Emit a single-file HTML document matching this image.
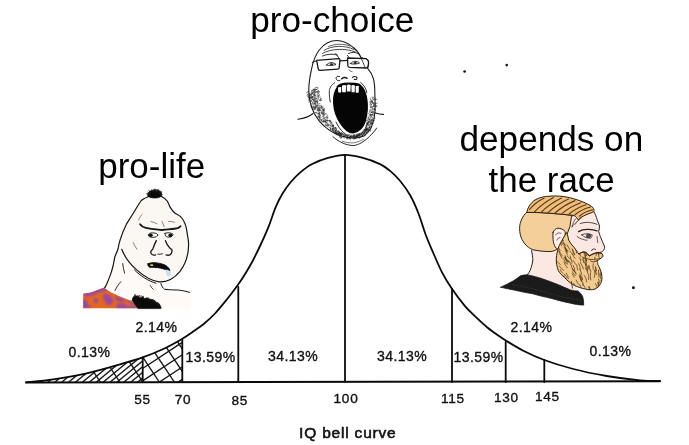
<!DOCTYPE html>
<html><head><meta charset="utf-8"><title>IQ bell curve</title>
<style>
html,body{margin:0;padding:0;background:#fff;}
body{width:689px;height:445px;overflow:hidden;position:relative;font-family:"Liberation Sans",sans-serif;}
svg{position:absolute;left:0;top:0;opacity:0.999;}
.h{position:absolute;white-space:nowrap;color:#000;font-size:34px;line-height:40px;text-align:center;}
.n{font-family:"Liberation Sans",sans-serif;font-size:13.6px;fill:#111;stroke:#111;stroke-width:0.35px;text-anchor:middle;letter-spacing:0.7px;}
.p{font-family:"Liberation Sans",sans-serif;font-size:14px;fill:#111;stroke:#111;stroke-width:0.35px;text-anchor:middle;letter-spacing:0.45px;}
</style></head><body>
<svg width="689" height="445" viewBox="0 0 689 445">
<rect width="689" height="445" fill="#fff"/>
<!-- hatch in left tail -->
<defs><clipPath id="tailA"><path d="M26.0 382.3 C30.6 381.8 43.2 380.8 53.3 379.3 C63.4 377.8 75.6 375.8 86.7 373.3 C97.8 370.8 110.7 367.0 120.0 364.3 C129.3 361.6 135.5 359.9 142.7 357.3 C149.9 354.8 156.8 352.0 163.3 349.0 C169.8 346.0 178.5 340.9 181.5 339.3 L182.3 339 L182.3 382.4 L26 382.4 Z"/><rect x="0" y="0" width="0" height="0"/></clipPath>
<clipPath id="cA"><rect x="20" y="330" width="122.7" height="60"/></clipPath>
<clipPath id="cB"><rect x="142.7" y="330" width="39.6" height="60"/></clipPath></defs>
<g clip-path="url(#tailA)" fill="none" stroke="#151515" stroke-width="1.35" stroke-linecap="butt">
<g clip-path="url(#cA)">
<path d="M40.0 383 l40 -33"/>
<path d="M46.9 383 l40 -33"/>
<path d="M53.8 383 l40 -33"/>
<path d="M60.7 383 l40 -33"/>
<path d="M67.6 383 l40 -33"/>
<path d="M74.5 383 l40 -33"/>
<path d="M81.4 383 l40 -33"/>
<path d="M88.3 383 l40 -33"/>
<path d="M95.2 383 l40 -33"/>
<path d="M102.1 383 l40 -33"/>
<path d="M109.0 383 l40 -33"/>
<path d="M115.9 383 l40 -33"/>
<path d="M122.8 383 l40 -33"/>
<path d="M129.7 383 l40 -33"/>
<path d="M136.6 383 l40 -33"/>
<path d="M143.5 383 l40 -33"/>
<path d="M101.0 383 l-20 -30"/>
<path d="M120.5 383 l-20 -30"/>
<path d="M143.5 383 l-20 -30"/>
</g>
<g clip-path="url(#cB)">
<path d="M160.0 383 l-30 -45"/>
<path d="M175.0 383 l-30 -45"/>
<path d="M190.0 383 l-30 -45"/>
<path d="M205.0 383 l-30 -45"/>
<path d="M143 356.0 l45 -29.7"/>
<path d="M143 368.3 l45 -29.7"/>
<path d="M143 380.6 l45 -29.7"/>
<path d="M143 392.9 l45 -29.7"/>
<path d="M143 405.2 l45 -29.7"/>
</g>
</g>
<!-- bell curve -->
<g fill="none" stroke="#0a0a0a" stroke-width="1.8" stroke-linecap="round" stroke-linejoin="round">
<path d="M26.0 382.3 C30.6 381.8 43.2 380.8 53.3 379.3 C63.4 377.8 75.6 375.8 86.7 373.3 C97.8 370.8 110.7 367.0 120.0 364.3 C129.3 361.6 135.5 359.9 142.7 357.3 C149.9 354.8 156.8 352.0 163.3 349.0 C169.8 346.0 176.6 342.1 181.5 339.3 C186.4 336.5 188.8 334.6 192.5 332.0 C196.2 329.4 199.9 327.1 203.7 324.0 C207.4 320.9 211.2 317.6 215.0 313.5 C218.8 309.4 223.0 304.2 226.8 299.5 C230.6 294.8 234.8 289.1 237.6 285.2 C240.4 281.3 241.3 280.2 243.7 276.3 C246.1 272.4 249.3 267.2 252.1 262.0 C254.9 256.8 257.7 251.0 260.5 245.0 C263.3 239.0 266.4 232.1 268.9 225.8 C271.4 219.5 273.4 212.5 275.7 207.2 C277.9 201.9 279.9 198.0 282.4 193.8 C284.9 189.6 287.7 185.7 290.8 182.0 C293.9 178.3 297.4 174.9 300.9 171.9 C304.4 168.9 307.2 166.5 311.7 164.2 C316.2 161.9 322.4 159.4 328.0 157.9 C333.6 156.4 339.5 154.9 345.2 154.9 C350.9 154.9 356.2 156.2 362.0 157.7 C367.8 159.2 375.3 161.9 380.0 164.1 C384.7 166.3 386.7 168.1 390.1 170.9 C393.5 173.7 396.8 176.9 400.2 181.0 C403.6 185.1 407.2 190.0 410.3 195.5 C413.4 201.0 416.2 207.6 418.7 214.0 C421.2 220.4 423.0 227.5 425.5 234.2 C428.0 240.9 431.1 248.0 433.9 254.4 C436.7 260.9 439.4 267.3 442.3 272.9 C445.2 278.5 447.6 282.4 451.4 288.0 C455.2 293.6 460.9 301.3 465.0 306.2 C469.1 311.1 472.5 313.8 476.2 317.4 C479.9 320.9 483.6 324.4 487.4 327.5 C491.1 330.6 495.5 333.6 498.7 335.8 C501.9 338.1 502.4 338.5 506.5 341.0 C510.6 343.5 517.0 347.5 523.3 350.7 C529.6 353.9 536.0 356.9 544.3 360.0 C552.6 363.1 562.9 366.3 573.3 369.0 C583.7 371.7 595.6 374.1 606.7 376.0 C617.8 377.9 631.1 379.5 640.0 380.3 C648.9 381.1 656.7 380.9 660.0 381.0"/>
<path d="M26 382.4 L660 381.3" stroke-width="2"/>
<path d="M345 155 V382"/>
<path d="M238.3 287 V382"/>
<path d="M452 289 V382"/>
<path d="M182.3 339.5 V382"/>
<path d="M505.7 342 V382"/>
<path d="M142.7 357.5 V382"/>
<path d="M544.3 360 V382"/>
</g>
<!-- axis numbers -->
<text class="n" x="142.5" y="404">55</text>
<text class="n" x="183" y="404">70</text>
<text class="n" x="239.7" y="404.7">85</text>
<text class="n" x="346" y="402.9">100</text>
<text class="n" x="453" y="403">115</text>
<text class="n" x="506.3" y="402">130</text>
<text class="n" x="547.3" y="401">145</text>
<!-- percentages -->
<text class="p" x="89.5" y="356.5">0.13%</text>
<text class="p" x="156.5" y="331.5">2.14%</text>
<text class="p" x="210.5" y="361.5">13.59%</text>
<text class="p" x="293" y="361">34.13%</text>
<text class="p" x="402" y="361">34.13%</text>
<text class="p" x="478.5" y="361.5">13.59%</text>
<text class="p" x="531.5" y="331.5">2.14%</text>
<text class="p" x="610.5" y="355.5">0.13%</text>
<text x="347.8" y="437.9" style="font-family:'Liberation Sans',sans-serif;font-size:15.5px;fill:#111;stroke:#111;stroke-width:0.6px;text-anchor:middle;letter-spacing:0.8px;">IQ bell curve</text>
<!-- stray dots -->
<circle cx="464.6" cy="71.5" r="1.3" fill="#111"/>
<circle cx="506.7" cy="65.1" r="1.3" fill="#111"/>
<circle cx="633.4" cy="287.8" r="1.45" fill="#111"/>
<!-- characters -->
<g id="soy" fill="none" stroke="#1a1a1a" stroke-width="1" stroke-linecap="round" stroke-linejoin="round">
<path d="M337 40.5 C331 40.5 324 44 319.7 49.5 C316 54 313 62 311.7 68.4 C310 76 308.6 84 308.8 91 C309 99 311 107 314.5 114 C319 122 327 130 337 134.5 C345 138 356 139.5 364 136 C370 132 374 124 375 112 C375.5 104 375 99 374.8 93 C374.8 88 374.6 83 373.5 79 C372.5 75 370 71 367.6 68.4 C368.5 66 369 64 368.5 61 C366 59 363 58 361 57.5 C359 53 356 49.5 353 47.3 C348.5 43.5 343 40.5 337 40.5 Z" fill="#fff" stroke-width="1.1"/>
<path d="M324 50.5 C331 45.5 345 44.8 354 49.5" stroke-width="0.8"/>
<path d="M322.5 53.5 C330 48.8 345 47.8 355.5 52" stroke-width="0.8"/>
<path d="M328.5 46.5 C335 43.6 344 43.6 350 46" stroke-width="0.7"/>
<path d="M322.5 56 C327 54 333 53.5 337.5 55" stroke-width="0.9"/>
<path d="M348.5 53.5 C351.5 52 355 52 358 53.5" stroke-width="0.9"/>
<path d="M316.6 60.4 L338.9 58.6 Q340 58.6 340 60 L339.2 67.8 Q339 69 337.8 69.1 L320 70.4 Q318.6 70.4 318.3 69 Z" stroke-width="1.3" fill="#fff"/>
<path d="M347.5 58 L366 58.6 Q368.6 60 368.6 62.5 L368 66.5 Q367.5 68 366 68 L349.5 67.3 Q348 67.2 347.9 66 Z" stroke-width="1.3" fill="#fff"/>
<path d="M340 60.8 L347.5 60.3" stroke-width="1.3"/>
<path d="M316.6 60.6 L312.2 62.5" stroke-width="1"/>
<path d="M335.8 53.7 L338.6 57.6 M347.4 55.4 L349.6 58.2" stroke-width="0.9"/>
<path d="M360.9 57.6 C362.5 61 364.2 65 365.3 68" stroke-width="0.8"/>
<path d="M326.5 65 C328.5 62 333.5 61.8 336 64.5 C333 65.6 329.5 65.8 326.5 65 Z" stroke-width="0.9"/>
<ellipse cx="331.6" cy="64.2" rx="1.7" ry="1" fill="#222" stroke="none"/>
<path d="M350.5 63.6 C352.5 60.8 357 60.6 359.5 63 C356.5 64.3 353 64.4 350.5 63.6 Z" stroke-width="0.9"/>
<ellipse cx="355.2" cy="62.9" rx="1.7" ry="1" fill="#222" stroke="none"/>
<path d="M349 70 C350 71 351 71.5 352 71.5" stroke-width="0.7"/>
<path d="M339.5 76.5 C337 75.5 335.3 77.5 336.5 79.5 C337.3 80.8 339 81 340 80.3" stroke-width="1"/>
<path d="M341.8 78.8 C343 77.3 345.8 77 347 78.3" stroke-width="1.5"/>
<path d="M352.5 77.5 C353.5 76 356.5 76 357 78 C357.3 79.3 355.5 80 354.3 79.2" stroke-width="1.1"/>
<path d="M334.6 82.8 C331 85 329.3 88.5 329.3 92 C329.3 96 329.6 99 330.3 102" stroke-width="0.9"/>
<path d="M360.7 82.5 C364 85 366 88.5 366.8 92.5" stroke-width="0.9"/>
<path d="M337 86.8 C339 84.3 343 83.3 348 83.2 C353 83.2 357 83.5 359.8 84.6 C363.5 87.5 366 93 366.8 99 C367.8 106 367.5 113 365.5 120.5 C363.5 127 360 131.5 353 133 C347.5 133 343.5 128 340.5 123.5 C336.5 117.5 334 110 333.6 103 C333.4 97 334.5 91 337.3 87.3 Z" fill="#050505" stroke="#050505" stroke-width="1.2"/>
<path d="M338.0 87.5 Q339.65 86.4 341.3 87.30000000000001 L341.1 92.6 L338.3 92.6 Z" fill="#fff" stroke="none"/>
<path d="M341.9 85.69999999999999 Q343.95 84.6 346.0 85.5 L345.8 92.2 L342.2 92.2 Z" fill="#fff" stroke="none"/>
<path d="M346.6 85.19999999999999 Q348.65 84.1 350.7 85.0 L350.5 91.6 L346.90000000000003 91.6 Z" fill="#fff" stroke="none"/>
<path d="M351.3 85.6 Q353.1 84.5 354.9 85.4 L354.7 92.2 L351.6 92.2 Z" fill="#fff" stroke="none"/>
<path d="M355.5 86.3 Q357.2 85.2 358.9 86.10000000000001 L358.7 92.8 L355.8 92.8 Z" fill="#fff" stroke="none"/>
<path d="M336 122 C340 131 347 137 354 137 C361 136 366 130 368.5 121" stroke-width="0.9"/>
<path d="M333 136.8 C338 141.2 345 145.2 353.3 145.6 C358.5 145.2 365 141 369.6 136.3 C372.5 133.5 375 131 376.6 128.1" stroke-width="0.95"/>
<path d="M342.3 141.2 C346 142.6 350 143 353.3 142.8 C357 142.4 360.5 141 363.8 139.2" stroke-width="0.7" stroke="#444"/>
<path d="M297.8 119.2 C303 118.5 309 117 313 113.5" stroke-width="1.1"/>
<path d="M374.8 112.8 C377.5 113.8 380.5 114.4 383.5 114.4" stroke-width="1.1"/>
<path d="M308.5 91.5 L306.8 92.5 M308.6 93.6 L307 95" stroke-width="0.7"/>
<path d="M315.3 106.9L314.9 107.7M322.3 116.4L323.6 116.6M313.5 91.2L314.3 91.4M323.4 110.2L324.3 110.6M329.7 120.2L329.4 121.3M337.1 133.3L336.1 133.8M311.9 98.3L312.8 99.7M316.6 98.1L316.1 99.1M320.2 117.2L321.2 117.4M327.3 122.7L328.1 123.9M319.6 112.6L318.4 113.5M317.6 101.5L317.4 103.1M328.0 124.7L327.1 124.8M322.6 110.0L323.8 110.6M315.6 89.9L314.6 90.9M334.1 130.3L333.3 131.5M324.4 118.3L322.8 119.1M323.2 113.0L324.6 113.3M330.6 121.1L329.7 121.7M321.2 108.5L322.4 108.6M312.2 99.5L313.8 99.8M312.9 97.0L313.4 98.5M314.1 93.4L313.8 95.1M335.5 128.6L336.3 129.6M322.5 106.6L321.5 106.7M313.4 99.4L314.3 100.2M323.1 118.8L324.3 118.9M319.9 107.9L318.4 108.2M323.9 115.1L323.4 115.8M338.1 131.7L336.6 132.3M318.9 109.5L320.3 110.0M310.4 94.6L311.2 95.2M314.7 107.9L315.7 107.9M313.6 95.0L315.2 95.1M323.0 120.0L323.8 120.8M315.9 108.9L314.3 109.7M321.4 112.9L322.3 113.2M316.7 107.5L315.8 107.9M318.0 87.3L317.9 88.3M319.8 117.1L319.6 118.9M336.1 130.2L336.9 131.1M318.1 96.5L318.0 98.0M316.0 106.9L314.6 107.9M336.4 129.9L335.1 130.8M316.8 100.8L317.1 101.5M312.0 91.7L313.0 92.7M338.5 133.3L336.8 133.6M338.0 133.1L338.8 133.8M313.4 100.5L312.8 102.1M333.7 129.2L333.0 130.6M316.1 92.5L314.5 92.9M330.2 125.6L331.5 126.5M321.2 105.4L320.0 105.5M323.9 108.7L323.3 109.4M311.9 97.3L310.4 97.8M318.3 95.1L316.9 95.1M319.3 107.0L320.1 107.4M340.4 134.0L340.3 135.8M324.0 110.6L323.1 111.1M315.2 102.9L316.2 103.9M316.4 102.8L318.0 103.5M318.6 107.5L318.2 109.1M324.1 109.8L324.1 111.1M319.1 116.2L319.3 117.2M316.4 87.2L317.5 87.8M329.9 124.6L330.5 125.7M326.3 116.8L327.6 117.3M315.0 102.8L314.0 103.7M326.3 117.2L325.1 117.5M325.7 119.7L325.7 121.2M321.5 112.2L321.6 113.9M331.4 123.5L330.3 123.7M327.7 116.9L326.9 117.3M314.5 95.6L315.5 95.8M316.0 91.8L314.7 92.9M317.5 96.0L317.0 96.9M338.6 131.3L340.0 132.4M319.8 109.6L318.2 109.6M315.0 97.7L314.9 98.9M314.5 100.0L313.9 100.6M323.5 117.1L324.6 117.2M326.1 120.2L327.9 120.6M335.1 127.4L336.1 127.8M316.6 89.3L317.2 90.0M324.1 109.9L323.2 110.4M319.2 94.8L318.9 96.3M310.6 96.0L309.9 97.0M318.4 90.3L317.8 91.7M317.8 91.4L319.4 91.7M319.9 112.6L319.6 114.3M314.0 104.3L313.9 105.3M311.8 96.4L312.8 96.6M316.4 105.8L315.6 106.6M319.8 115.0L320.1 115.7M312.6 103.9L311.7 104.9M315.8 99.0L314.9 99.2M332.5 128.3L332.5 130.0M319.9 109.3L318.9 110.8M321.7 105.8L320.8 107.0M318.8 110.2L319.7 110.4M316.6 91.3L317.3 92.0M317.7 91.5L316.3 92.1M315.3 104.6L316.0 105.6M315.0 97.5L316.2 98.8M339.9 134.0L341.2 135.2M316.8 105.6L318.0 105.6M321.8 113.3L322.9 114.1M311.6 90.6L312.8 90.9M309.8 93.9L310.4 94.7M325.1 118.5L324.1 119.5M331.9 124.3L332.3 125.3M338.1 133.8L337.2 134.9M317.2 89.2L315.8 89.7M332.0 125.0L333.2 125.6M325.4 114.2L324.0 115.2M328.0 118.1L327.2 119.4M312.4 102.8L313.5 103.3M317.9 92.7L317.6 94.1M327.5 120.2L327.6 121.0M333.9 127.7L333.9 129.0M323.8 121.9L323.1 122.7M312.3 94.1L311.7 94.9M333.4 125.3L333.5 126.5M323.5 113.2L322.4 114.2M323.4 121.2L324.3 121.7M328.7 125.3L328.5 126.1M312.2 93.4L311.4 94.7M326.1 122.5L326.1 123.8M318.4 113.6L317.4 113.9M342.4 134.7L343.7 134.8M336.2 128.7L336.4 129.8M320.4 98.1L321.4 99.0M315.5 96.3L314.6 96.4M333.1 128.4L331.7 129.0M320.3 99.5L320.3 100.3M313.7 89.1L313.8 90.2M313.9 97.1L314.8 98.5M316.0 87.4L315.2 87.8M338.8 132.6L337.8 132.9M318.4 108.5L317.1 108.5M318.5 107.9L319.1 108.5M317.8 92.5L318.9 93.9M314.9 102.9L314.8 103.9M323.4 107.2L321.9 107.7M329.5 120.3L328.2 120.6M325.9 124.3L325.1 125.2M331.5 125.8L332.0 126.4M335.2 131.9L335.3 133.0M320.0 103.7L318.9 103.8M325.5 121.7L325.3 122.9M312.6 99.3L314.0 100.3M320.0 114.8L318.3 115.3M318.1 112.8L318.8 113.3M315.1 107.9L315.9 108.6M327.5 117.4L326.7 118.3M320.5 110.3L321.0 111.3M312.3 93.4L311.4 93.5M323.6 114.5L322.7 114.9M315.1 104.0L315.5 105.2M340.9 133.7L340.1 134.1M315.9 89.3L314.7 89.7M320.9 119.0L321.5 120.6M335.7 128.9L334.6 129.0M311.7 96.4L311.6 97.9M339.5 133.1L338.8 134.5M321.8 112.4L323.4 112.6M320.5 99.5L320.0 100.5M312.9 96.9L312.3 98.2M311.0 97.0L310.9 98.4M317.3 109.7L317.1 110.5M317.6 104.8L316.2 105.0M335.5 130.8L336.3 131.5M340.3 133.8L340.8 134.5M323.9 114.2L324.1 115.2M330.7 122.0L331.3 122.6M318.0 106.8L317.4 107.6M333.8 127.7L333.8 128.7M338.3 133.5L337.5 134.1M318.9 99.5L319.9 100.9M319.7 114.8L320.7 115.6M330.8 121.9L331.9 122.5M320.7 98.2L321.4 98.5M313.3 92.7L311.7 93.2M333.4 125.0L332.3 125.3M319.9 96.8L319.3 97.4M326.4 122.0L326.9 123.1M311.2 100.1L311.9 101.0M336.5 132.8L335.5 132.9M321.9 106.6L320.8 107.3M314.0 91.6L314.6 93.2M314.8 99.7L314.0 99.9M322.9 109.5L322.3 110.1M310.1 93.3L309.1 93.6M333.1 125.6L333.7 126.6M339.6 133.6L340.7 134.7M316.2 106.1L317.8 106.2M337.9 132.1L337.1 132.3M316.5 101.3L314.8 101.5M317.5 109.6L317.8 110.9M335.6 132.0L334.3 132.9M335.0 128.7L334.6 129.8M317.1 106.0L316.4 106.6M318.4 98.2L319.0 98.8M314.5 90.3L315.4 91.9M338.8 131.3L339.4 132.0M314.7 94.0L314.0 95.0M316.0 101.5L315.4 102.9M332.8 125.6L332.3 126.5M332.5 129.0L332.2 130.2M327.7 125.1L328.5 125.8M319.0 95.2L318.7 96.3M324.2 108.3L324.2 109.3M333.6 128.1L332.7 128.1M324.5 112.8L323.0 113.6M312.2 92.2L313.2 92.6M340.1 134.0L339.0 134.3M334.6 130.1L335.6 131.3M335.9 132.5L335.5 133.8M315.3 100.9L316.2 101.3M318.0 101.9L317.5 102.8M312.3 90.5L311.7 91.4M315.5 106.2L314.4 107.0M310.7 94.5L311.2 95.7M323.3 121.1L324.7 121.8M318.3 110.6L319.3 112.1M318.7 105.0L319.3 106.1M338.1 130.6L338.5 131.5M327.4 124.7L329.1 124.7M323.3 110.1L323.8 111.8M318.6 113.2L319.9 113.3M329.8 120.8L331.1 121.2M319.4 108.2L320.4 108.7M326.6 115.0L327.8 115.4M335.7 128.1L336.4 128.7M341.2 133.5L341.2 134.4M336.8 132.2L335.4 132.6M330.9 128.3L330.1 129.0M323.1 109.1L322.3 109.6M315.6 100.8L315.5 102.0M312.8 96.7L311.7 97.9M314.7 90.7L314.1 91.2M331.2 128.8L330.7 130.1M324.6 120.5L325.0 121.8M322.0 110.6L322.2 111.8M315.0 89.4L315.0 90.4M332.9 126.3L333.0 127.3M318.4 113.9L319.6 114.4M314.1 94.0L314.1 94.9M323.2 121.0L322.1 122.1M319.1 115.7L319.0 116.9M336.4 132.7L334.8 133.4M332.0 125.0L333.5 126.0M326.1 113.4L325.2 113.7M334.8 127.4L335.9 127.6M328.1 125.8L327.1 126.1M330.4 128.0L330.4 129.7M314.2 100.9L314.1 102.0M311.2 92.7L312.7 93.5M330.9 122.6L332.2 123.4M315.2 94.8L314.8 95.9M335.5 130.5L335.1 132.1M319.3 91.8L318.8 92.9M330.5 127.4L329.1 127.4M321.5 107.0L321.6 107.9M326.8 125.2L325.9 125.8M330.3 120.7L329.9 122.1M313.7 106.8L314.7 106.9M325.3 119.9L325.2 121.6M312.7 97.2L312.3 97.9M312.4 89.9L313.5 90.3M317.3 100.4L317.0 101.3M325.9 120.2L327.4 121.0M313.7 103.0L315.1 103.5M337.0 130.6L337.3 131.6M315.1 88.6L314.9 89.7M326.3 121.2L324.8 121.5M320.6 100.5L321.9 100.6M317.9 110.5L319.4 110.8M314.3 89.2L313.4 89.4M317.1 99.0L317.1 100.4M362.3 135.1L362.8 135.8M364.7 131.0L366.2 131.0M360.9 134.8L361.0 135.8M340.5 135.9L341.2 137.1M359.4 133.7L360.3 134.6M351.2 135.4L352.1 136.3M366.6 131.9L367.6 131.9M345.4 134.8L344.6 135.6M364.0 133.2L362.7 133.6M359.6 134.5L359.8 136.0M359.2 133.6L358.4 134.6M347.3 137.6L348.8 138.0M341.7 137.2L340.7 137.5M341.6 137.2L340.8 138.3M358.8 134.2L358.5 135.2M363.0 132.1L364.5 132.4M364.7 129.7L365.4 130.3M339.3 132.2L338.7 133.5M356.9 136.8L358.3 137.2M343.9 136.5L344.9 136.5M346.2 135.2L347.1 136.6M353.5 135.0L354.6 135.1M351.1 135.4L350.3 136.4M343.9 134.1L343.1 134.6M338.3 134.6L337.5 134.7M353.3 136.6L354.3 137.3M348.2 135.0L347.2 135.2M344.2 134.8L345.5 135.3M340.5 133.1L339.4 133.9M348.6 137.0L347.7 137.3M364.2 134.4L365.2 135.5M353.7 137.1L354.5 137.9M354.5 135.3L354.0 136.3M348.1 138.0L347.4 139.2M343.1 135.6L342.9 136.5M351.8 134.9L352.6 135.5M359.1 133.6L360.0 134.1M347.4 136.3L347.9 137.1M366.1 129.3L365.2 129.4M349.9 134.4L349.1 135.3M343.3 135.0L344.2 135.6M339.2 134.2L338.5 135.2M357.0 136.0L356.6 137.1M360.5 132.9L360.1 134.2M351.0 137.9L349.7 138.4M359.5 133.6L359.0 134.7M346.9 135.8L347.3 137.2M359.5 134.5L359.8 135.6M357.2 136.3L356.3 136.6M357.9 134.4L357.9 136.0M338.7 133.6L337.5 134.6M353.9 138.3L353.8 139.7M354.0 135.9L353.9 137.0M366.0 132.3L366.5 133.6M341.3 132.7L342.3 132.9M350.0 138.8L350.3 140.1M348.3 137.6L347.2 138.7M354.4 137.7L354.7 138.7M342.0 133.7L341.5 134.8M355.7 137.6L356.2 138.7M362.6 132.1L363.4 133.1M341.4 133.4L340.5 133.8M349.2 137.7L349.9 138.1M359.7 135.9L360.4 136.9M351.1 136.0L351.8 137.4M363.9 134.9L362.6 135.3M342.1 133.6L342.9 133.6M365.7 130.2L366.6 130.5M344.7 134.6L346.0 135.4M362.3 135.5L361.8 136.8M358.7 133.8L357.9 134.2M359.4 135.1L359.7 136.6M354.7 137.4L355.8 137.9M339.3 134.2L339.3 135.4M354.0 134.8L353.0 135.4M355.5 135.6L356.0 136.6M366.3 132.6L365.9 133.4M357.1 135.2L357.9 136.6M354.0 136.6L355.3 136.7M357.5 136.6L358.0 137.7M353.8 135.3L354.0 136.4M354.7 134.9L353.8 135.5M353.4 137.6L352.1 137.7M361.8 134.7L362.5 135.8M357.0 134.6L356.0 135.7M354.5 138.4L355.4 138.4M365.4 131.1L364.2 132.0M356.8 135.5L356.1 136.5M359.0 136.7L359.1 138.1M340.4 136.0L339.2 137.0M358.4 136.2L357.4 137.0M345.5 137.0L346.1 137.9M357.2 133.8L357.0 134.6M341.4 133.4L340.3 133.7M338.5 134.0L336.9 134.3M352.1 137.0L351.7 137.9M341.8 137.3L341.4 138.1M366.6 132.4L367.4 132.8M360.1 136.1L360.8 136.6M361.8 133.3L361.2 133.9M357.2 134.9L356.2 135.2M365.7 129.7L367.1 129.7M362.4 135.5L361.8 136.2M363.3 132.9L363.8 134.0M351.0 135.9L350.1 136.5M357.6 135.2L358.1 136.5M365.9 129.8L366.4 130.5M366.8 129.5L367.4 130.6M366.6 128.8L367.3 129.8M364.6 132.8L364.1 134.3M361.9 134.7L362.6 135.6M356.3 134.8L357.8 135.0M362.5 132.0L363.5 133.1M362.8 132.9L363.2 133.7M354.6 135.0L353.5 136.1M345.0 135.4L345.1 136.4M345.8 134.9L345.9 135.8M362.1 132.5L361.7 134.0M364.3 132.3L364.1 133.2M343.8 137.0L344.3 138.1M349.8 136.6L351.4 136.8M349.4 138.4L348.7 138.9M356.3 136.8L357.1 136.9M366.8 128.3L366.6 129.3M362.0 134.5L361.0 135.5M365.7 131.8L366.5 132.3M340.4 136.4L339.3 136.9M365.4 129.2L365.1 130.2M341.2 132.8L340.9 134.0M365.9 130.0L366.1 131.0M366.0 128.4L367.0 128.5M349.0 134.7L348.2 135.1M361.9 133.1L361.1 133.2M342.6 133.9L342.0 134.8M355.7 135.0L356.2 135.8M341.2 135.0L341.9 135.6M358.9 137.6L359.6 138.1M365.8 132.7L364.4 133.3M341.6 135.3L340.1 135.6M357.1 136.1L356.1 136.7M356.9 137.5L358.3 137.7M355.3 138.0L356.0 138.8M342.8 136.2L343.3 137.0M353.4 137.4L354.9 138.0M339.7 132.3L340.7 133.0M346.2 137.3L346.8 138.8M366.6 127.9L367.5 129.1M339.4 133.0L338.6 133.1M362.0 134.5L363.5 134.5M354.0 137.9L353.1 138.2M373.2 114.2L372.1 115.2M370.4 125.9L370.0 127.1M370.5 124.3L369.5 125.6M372.9 113.6L372.1 114.5M374.4 109.1L375.3 110.5M372.6 102.4L371.3 102.8M373.8 102.3L372.8 102.9M368.5 127.3L369.8 127.3M370.3 118.5L369.3 119.7M373.5 103.1L374.1 104.5M364.5 130.1L364.5 131.4M370.8 115.5L369.7 115.6M370.2 126.4L369.5 126.9M365.9 128.5L367.3 128.6M371.1 114.5L372.7 115.0M374.5 108.6L374.5 109.9M371.0 123.9L372.3 124.5M374.5 103.1L373.8 103.8M370.0 104.4L370.4 106.0M371.5 116.5L370.6 117.3M369.5 125.0L367.9 125.1M370.9 101.2L372.2 101.4M370.4 98.6L370.7 100.0M369.6 121.0L369.8 122.3M368.0 131.0L366.7 132.1M369.9 112.6L369.1 112.9M372.9 112.1L373.8 113.1M372.0 100.1L371.9 101.3M373.9 99.0L373.5 99.8M368.8 113.7L369.7 114.6M372.9 115.4L373.9 115.9M371.2 119.9L372.5 120.2M371.8 104.0L371.4 104.9M372.2 109.3L371.7 110.5M370.7 122.8L370.6 124.0M374.0 113.8L373.0 114.2M371.2 114.8L370.1 114.8M374.1 106.3L372.9 106.8M367.2 129.6L366.6 130.3M365.9 125.8L366.9 126.3M368.7 121.9L367.2 122.7M369.6 116.6L368.6 117.5M371.1 106.7L372.6 107.3M364.3 131.0L364.4 132.8M371.7 114.7L370.4 115.3M370.1 120.9L369.4 121.8M369.6 120.5L370.5 121.9M372.5 103.5L373.4 104.1M367.1 127.7L368.8 128.2M367.5 123.0L366.5 123.2M368.0 119.0L369.3 119.2M368.4 117.4L368.2 119.2M370.8 116.6L371.2 117.7M372.2 114.1L371.5 115.2M367.7 128.7L367.4 130.0M370.0 102.3L370.3 103.7M373.7 97.2L372.9 97.7M366.7 123.2L366.7 124.1M371.6 102.0L369.9 102.0M372.1 119.4L372.0 120.7M369.8 126.7L369.4 127.8M372.1 96.8L372.5 98.3M368.2 122.7L369.1 124.1M370.4 113.6L370.4 115.0M368.0 124.4L366.6 124.4M372.2 119.6L371.5 120.2M368.8 128.8L367.6 129.5M374.7 104.9L373.9 105.6M372.8 108.7L373.4 109.4M372.2 101.1L372.4 102.3M364.3 129.9L363.1 130.0M372.9 112.2L371.3 112.6M367.1 123.3L367.9 124.4M372.8 99.2L373.7 100.1M373.5 108.7L372.3 109.2M373.7 105.6L374.1 106.5M373.9 98.3L375.2 98.8M370.4 120.4L371.9 121.0M371.0 121.6L371.7 122.4M365.3 130.1L366.6 130.8M368.2 129.3L369.3 129.7M370.8 103.8L371.4 105.1M367.3 120.8L366.0 121.0M368.7 125.1L368.1 126.0M372.1 101.3L373.2 102.3M366.2 125.5L366.2 126.8M367.4 124.1L366.7 125.4M369.9 122.7L371.3 123.5M368.5 122.4L368.2 123.5M371.9 116.6L372.5 117.4M366.1 127.9L366.7 129.5M370.1 107.0L371.1 107.4M365.2 130.5L365.7 131.6M370.6 111.0L369.6 111.5M373.3 112.0L371.8 112.4M374.5 108.7L375.4 109.2M369.8 122.9L370.6 124.0M366.1 126.8L365.4 127.6M369.3 119.0L370.9 119.0M373.4 106.1L372.1 106.8M367.8 129.6L367.0 130.2M371.3 100.4L370.6 101.3M370.3 107.5L372.0 108.0M367.8 119.7L366.7 120.9M371.8 111.9L371.1 112.9M368.5 116.2L367.9 116.8M370.2 109.3L370.0 111.0M371.4 111.8L372.5 112.0M371.8 119.8L373.1 120.4M373.2 110.5L373.1 111.8M334.8 132.0L333.2 130.8M313.4 106.2L310.6 106.3M310.8 98.8L308.5 99.3M314.1 107.8L311.4 107.8M319.7 117.3L317.1 116.7M311.2 100.1L308.7 100.5M321.3 119.4L319.2 118.8M327.4 126.1L324.9 124.9M310.4 97.5L308.5 97.9M314.7 109.0L312.9 109.0M309.8 94.9L307.9 95.4M311.6 101.4L309.1 101.8M316.9 113.0L315.2 112.8M313.9 107.4L311.7 107.4M314.8 109.1L313.0 109.1M309.9 95.4L308.4 95.9M337.6 133.8L335.6 132.1M310.0 96.0L307.5 96.7M337.0 133.4L335.2 131.9M310.3 97.2L308.2 97.7M316.5 112.4L314.7 112.2M319.5 117.1L318.1 116.8M334.1 131.5L332.0 130.1M322.2 120.6L319.5 119.8M323.1 121.7L321.3 121.0M312.4 103.7L310.7 103.9M367.9 130.4L370.7 131.1M370.9 123.5L372.7 123.8M374.2 103.7L377.3 103.1M374.0 106.3L376.9 106.7M371.1 122.6L373.0 123.3M371.1 122.8L373.2 122.9M371.5 121.3L374.4 120.8M368.0 130.1L370.5 130.4M374.1 104.8L376.8 105.6M374.5 99.5L376.8 99.4M369.4 127.3L371.5 127.5M368.5 129.2L371.2 128.5M372.1 118.9L375.3 118.1M368.0 130.1L370.3 129.5" stroke="#222" stroke-width="0.55"/>
</g>
<g id="brainlet" fill="none" stroke="#161616" stroke-width="1.2" stroke-linecap="round" stroke-linejoin="round">
<path d="M103.6 289.4 L106.5 284.6 L110.3 275 L113.2 265.5 L115.1 256 L118 249 L123 245 L140 270 L160 283 L164.7 289.4 L178 290 L189.5 292.3 L191 308.5 L100 308.5 Z" fill="#fdfaf7" stroke="none"/>
<path d="M148.2 196.7 C142 199 137 206 133.6 212.7 C129 220 123 231 120.4 239 C118 246 117.5 252 121.8 249.3 C124 256 130 264 136.1 269.4 C144 276 152 281 159 281.8 C166 282.5 174 278 180 271.3 C184 266 186.5 260 187.6 252 C188.8 246 188.6 240 187.6 236.1 C187 231 186.3 226.5 184.7 223 C183.5 220 182 218 180.3 216.4 C178 214.5 176 214 174.5 212.7 C172 210.5 171 208.5 170 206.9 C169 204.5 168.3 203 167.2 201 C166 199 164 197.8 162 196.7 Z" fill="#fbf8f4" stroke="none"/>
<path d="M148.2 196.7 C145 198 142.5 199 140.9 201 C138 205 136 209 133.6 212.7 C131 217 128.5 220.5 126.3 224.4 C124 229 122 234 120.4 239 C119 243 118.5 246 118 249 C117 252 116 254 115.1 256 C114.3 259 113.8 262 113.2 265.5 C112.3 269 111.5 272 110.3 275.1 C109 278.5 107.8 281.5 106.5 284.6 C105.5 286.5 104.6 288 103.6 289.4"/>
<path d="M162 196.7 C164 197.8 166 199 167.2 201 C168.3 203 169 204.5 170 206.9 C171 208.5 172 210.5 174.5 212.7 C176 214 178 214.5 180.3 216.4 C182 218 183.5 220 184.7 223 C186.3 226.5 187 231 187.6 236.1 C188.6 240 188.9 246 188 252 C187 259.5 184 266 180 271.3 C174.5 278 167 282.3 159 281.8 C152 281 144 276.5 136.1 269.4 C130 264 124.5 256.5 121.8 249.3"/>
<path d="M148.2 196.7 C152 195.2 158 195.2 162 196.7" stroke-width="1"/>
<path d="M148 195.8 C147.5 193.2 149.3 191 151.6 190.6 C153.6 189.7 156.4 189.7 158.3 190.6 C160.6 191 162.2 193 161.5 195.6 C160.3 197.6 157.5 198 154.8 197.9 C151.9 198 149 197.6 148 195.8 Z" fill="#0c0c0c" stroke="#0c0c0c" stroke-width="0.8"/>
<path d="M150.4 192.2l-1.5 -1.2M155.5 191.0l0.3 -1.8M152.4 191.3l-0.8 -1.7M156.6 191.2l0.6 -1.7M156.9 191.3l0.8 -1.7M149.0 193.9l-2.0 -0.4M148.9 194.5l-2.0 -0.1M159.8 192.8l1.7 -0.9M150.7 192.0l-1.4 -1.3M150.4 192.2l-1.5 -1.2M160.5 194.6l2.0 -0.0M154.2 191.0l-0.2 -1.8M159.8 192.8l1.7 -0.9M154.3 191.0l-0.1 -1.8M157.2 191.3l0.8 -1.6M149.5 193.0l-1.8 -0.8M157.1 191.3l0.8 -1.6M160.0 193.2l1.8 -0.7M155.1 191.0l0.1 -1.8M158.7 192.0l1.4 -1.3M157.7 191.5l1.0 -1.5M149.0 193.9l-2.0 -0.4" stroke="#222" stroke-width="0.6"/>
<path d="M138.7 220 C139.5 217.5 140.8 215.5 142.3 214.2" stroke-width="0.7" stroke="#555"/>
<path d="M151 221.5 C153 222 155.5 222.8 157 223.7" stroke-width="0.7" stroke="#555"/>
<path d="M162 221.5 C162.8 223 163.6 225 164.2 226.6" stroke-width="0.7" stroke="#555"/>
<path d="M168.6 221.5 C170.5 221.3 172.5 221.6 174.5 222.3" stroke-width="0.7" stroke="#555"/>
<path d="M140.1 224.2 C141.5 226.3 143.5 227.4 145.8 227.9 C150 228.9 154 229.3 158.4 229.6 C160.5 230.2 162.5 230.2 164.2 229.6 C168 229.3 171.5 229.3 174.5 228.8 C177 228.5 179.3 227.8 180.5 226.2" stroke-width="1.9"/>
<ellipse cx="153" cy="235.1" rx="4.7" ry="2.2" fill="#fff" stroke-width="0.9"/>
<ellipse cx="150.8" cy="235.2" rx="1.9" ry="1.8" fill="#111" stroke="none"/>
<path d="M165 233.3 C167.5 232.3 171 232.6 173.2 234.3 C172.6 236.6 169.5 237.8 166.5 236.8 C165.4 235.8 165 234.5 165 233.3 Z" fill="#fff" stroke-width="0.9"/>
<ellipse cx="170.4" cy="235.3" rx="2" ry="1.9" fill="#111" stroke="none"/>
<path d="M156.3 240.6 C154.8 243.5 153.5 247 152.6 249.6 C151 250 150.4 252 151.1 253.5 C152 255 154 255.3 155.6 254.9" stroke-width="1.35"/>
<path d="M157.8 254.2 C159.3 254.4 161 254.2 162.4 253.8" stroke-width="0.9"/>
<path d="M165.4 240.6 C166.3 243.5 168 246 169.9 248.1 C171.3 248.8 172.3 249.6 172.1 250.8 C171.9 252.6 171 254.2 169.9 254.9 C168.6 255.4 167.2 255.3 166.1 254.9" stroke-width="1.35"/>
<path d="M133.2 242.6 C134.3 245 135.7 247.3 137 249.3" stroke-width="0.7" stroke="#555"/>
<path d="M147.9 263.8 C150.5 262.6 154 262.4 157.1 263 C160.5 263.4 163.5 264.2 165.7 265.5 C167.8 266.8 169.4 268.6 169.9 270.5 C168.3 269.8 166.5 269.5 164.7 269.3 C162 268.4 159.5 267.8 157.1 267.5 C154.5 267.3 152 267.3 149.5 267.2 C148.3 266.5 147.6 265 147.9 263.8 Z" fill="#0a0a0a" stroke="#0a0a0a" stroke-width="0.9"/>
<rect x="150.2" y="264.2" width="3" height="1.9" rx="0.7" fill="#e8c832" stroke="none"/>
<path d="M166.3 270.2 C167.8 270 169.6 270.6 170.2 272 C170.9 273.6 170.6 275.3 169.5 276 C168.3 276.5 167 275.6 166.8 274.2 C166.6 272.8 166 271.5 166.3 270.2 Z" fill="#cadff0" stroke="#b4d0e6" stroke-width="0.4"/>
<path d="M134.5 270 C140 275.5 148.5 281.3 156 283.2" stroke-width="1"/>
<path d="M122.7 263.6 C123 267 123.8 270.3 124.6 273.2" stroke-width="0.9"/>
<path d="M120.8 281.8 C118.5 284.3 116.5 287.3 115.1 290.4" stroke-width="0.9"/>
<path d="M150.4 285.6 C151 287 152 288.5 153.3 289.4" stroke-width="0.8"/>
<path d="M160.9 283.5 C161.5 286 163 288.3 164.7 289.4 C169 290 174 289.8 178.1 290 C182 290.4 186 291.2 189.5 292.3" stroke-width="1"/>
<defs><clipPath id="shirtc"><path d="M83.2 293.8 L91 292.4 L98.9 289.4 L103.5 287.8 L111.3 292.4 L121.1 297 L131.6 300.9 L139.4 308.3 L83.2 308.3 Z"/></clipPath><filter id="bl" x="-20%" y="-20%" width="140%" height="140%"><feGaussianBlur stdDeviation="0.9"/></filter></defs>
<g clip-path="url(#shirtc)" stroke="none"><rect x="80" y="285" width="62" height="25" fill="#e2681f"/><g filter="url(#bl)" fill="#9e4a98">
<path d="M82 293 L92 291 L100 288 L105 287 L109 290 L101 292 L94 295 L86 297 Z"/>
<path d="M82 300 L86 299 L88 304 L92 308 L82 309 Z"/>
<path d="M94 299 C96 297.5 98 298 98.5 300 C99 302 97 303.5 95 303 C93.5 302.5 93 300.5 94 299 Z"/>
<path d="M104 294 C107 293 111 295 112 298 C114 301 113 304 110 305 C107 306 105 303 104 300 C103 298 102 295 104 294 Z"/>
<path d="M114 296 L122 298 L126 301 L121 302 L116 300 Z"/>
<path d="M117 304 C120 302.5 124 303 126 305 C128 306.5 131 306 134 305 L139 309 L116 309 Z"/>
<path d="M126 299.5 L132 301 L136 305 L131 304 Z"/>
</g></g>
<path d="M132.3 300.5 C132 298 133.5 296 135.5 296.3 C137 295.2 139 296.5 139.8 298 C141.5 297 143.5 297.3 144.6 298.6 C146.5 297.6 148.5 298 150 299.3 C152.5 299 154.5 300.3 155.8 302 C158 302.5 160 304.5 160.6 306.5 C161.3 307.5 161.2 308.3 160.9 308.6 L138 308.6 C136.5 306 134 303.5 132.3 300.5 Z" fill="#0b0b0b" stroke="#0b0b0b" stroke-width="0.7"/>
<path d="M153.5 302.7l0.3 -2.1M133.8 297.0l1.1 -1.8M152.4 302.2l1.1 -1.5M157.9 304.5l-0.3 -1.3M145.0 299.1l1.3 -1.2M135.6 297.0l-1.1 -2.3M159.1 305.0l-0.2 -1.6M141.1 297.5l0.0 -2.0M142.5 298.0l0.3 -1.7M157.4 304.3l0.5 -1.1M156.1 303.8l1.5 -1.5M137.4 297.0l1.1 -1.1M157.4 304.3l0.2 -1.5M138.7 297.0l1.0 -1.7M140.7 297.3l-1.3 -1.2M159.7 305.3l-1.2 -1.3M144.1 298.7l-1.0 -2.1M153.8 302.8l1.1 -2.5M149.6 301.0l-1.4 -1.5M141.9 297.8l1.1 -1.0M146.6 299.8l1.5 -2.1M135.1 297.0l0.3 -2.5M138.3 297.0l-0.3 -1.6M137.2 297.0l-1.4 -1.2M141.5 297.6l1.4 -1.2M143.2 298.3l-0.1 -1.8" stroke="#1a1a1a" stroke-width="0.6"/>
</g>
<g id="chad" fill="none" stroke="#2e2014" stroke-width="1" stroke-linecap="round" stroke-linejoin="round">
<path d="M531.5 249 C532 254 533 258 532.7 261 C532 266 530.5 270 529 272.5 C528 274 527 275 526 276 L545 282 L572.5 291 L577 289 L574 281 L566 266 L560 248 Z" fill="#fce8e2" stroke="none"/>
<path d="M531.6 250.5 C532.2 254 533 258 532.7 261 C532 266 530.5 270 529 272.5 C528 274 527 275 526 276"/>
<path d="M571.5 216 L580 218 L588 214 L593.8 211.6 C595.5 214 596.3 217 597 219.5 C598 222 599 224 599.5 226 C599.6 228 599 230 598.7 231.6 C599.2 233.5 599.8 235 600.3 236.4 C601.5 239.5 603 243 604.3 246 C604.8 247.5 604.6 248.5 604.2 249 C603.7 250 603 251 602.5 251.4 C601 252.5 599 252.6 597 252.4 L602 254.5 L600 259 L597 261 L590 262 L580 254 L574 247.5 L568.5 240 L566.5 232 L569.5 226 Z" fill="#fce8e2" stroke="none"/>
<path d="M593.8 211.6 C595.5 214 596.3 217 597 219.5 C598 222 599 224 599.5 226 C599.6 228 599 230 598.7 231.6 C599.2 233.5 599.8 235 600.3 236.4 C601.5 239.5 603 243 604.3 246 C604.8 247.5 604.6 248.5 604.2 249 C603.7 250 603 251 602.5 251.4 C601 252.5 599 252.6 597 252.4"/>
<path d="M526.8 212.3 C524.5 214 523 216.5 522 218.7 C520.3 222 519.6 225 519.6 228.3 C519.6 232.5 520.5 236.5 522 239.5 C523.3 242 525 244.3 526.8 246 C529 248 531.5 249.3 534 250 C539 251 545 251.6 550 251.5 C553 251.4 555.5 250.5 557.1 249 L560 247 L564 238 L567.5 233 L569.9 226.7 L571.5 216.3 L573.9 215.5 L557.9 213.9 L541.9 212.7 Z" fill="#f5cf9a"/>
<path d="M526.8 212.3 C527.2 210 528 208 529.2 206 C530.8 203.5 533 201.3 535.5 199.6 C539 197.8 543 196.8 546.7 196.4 C551 195.9 555.5 195.8 559.5 196.1 C564.5 196.5 569.5 197.5 573.9 198.8 C578 200 581.8 201.3 585 202.8 C588 204.2 591 205.8 593 207.6 C594 208.8 594.2 210.3 593.8 211.6 C592 212.6 590 213.3 588.2 213.9 C585.5 215 582.5 216.3 580.2 217.9 L578.6 220.3 C577.5 218.5 576 216.5 573.9 215.5 C568.5 214.8 563 214.3 557.9 213.9 C552.5 213.4 547 213 541.9 212.7 C536.8 212.5 531.5 212.3 526.8 212.3 Z" fill="#efbe7b"/>
<defs><clipPath id="hairc"><path d="M526.8 212.3 C527.2 210 528 208 529.2 206 C530.8 203.5 533 201.3 535.5 199.6 C539 197.8 543 196.8 546.7 196.4 C551 195.9 555.5 195.8 559.5 196.1 C564.5 196.5 569.5 197.5 573.9 198.8 C578 200 581.8 201.3 585 202.8 C588 204.2 591 205.8 593 207.6 C594 208.8 594.2 210.3 593.8 211.6 C592 212.6 590 213.3 588.2 213.9 C585.5 215 582.5 216.3 580.2 217.9 L578.6 220.3 C577.5 218.5 576 216.5 573.9 215.5 C568.5 214.8 563 214.3 557.9 213.9 C552.5 213.4 547 213 541.9 212.7 C536.8 212.5 531.5 212.3 526.8 212.3 Z"/></clipPath></defs>
<path d="M529.5 209.5Q535.5 202.3 544 198.3M534.5 211.8Q542.8 203.1 553.5 197.5M541 212.3Q550.0 203.6 561.5 198M548 212.6Q557.0 204.2 568.5 199M555 213Q563.8 205.2 575 200.6M562 213.6Q570.2 206.6 580.8 202.8M569 214.2Q576.3 207.9 586 204.8M575 214.8Q581.5 209.3 590.5 207M579.5 216.2Q585.0 211.4 593 209.8M582 218.5Q586.5 214.1 593.5 212.8M528.5 204.5Q531.3 200.4 536.5 199.5" stroke="#5a3a18" stroke-width="1.15" clip-path="url(#hairc)"/>
<path d="M578.6 220.3 C576.5 222 574 224 572 227 M582 217.5 C579 219.5 576.5 222 575 224.5" stroke="#5b3d1e" stroke-width="0.7"/>
<path d="M553.1 232.3 C554 229.8 556 228.2 557.9 228.2 C560.5 228.2 563.5 229.5 565.1 231.5 C565.6 233.5 565.2 236 564.3 238 C563.3 241.5 561.5 245.5 559.5 249 C558 249.2 556.5 248.5 555.5 247.5 C554 245 553.2 242 553.1 239.5 C552.8 237 552.7 234.5 553.1 232.3 Z" fill="#fdeee9"/>
<path d="M555.5 235 C556.5 233 559 232.3 561 233.3 M557 240 C557.6 238.5 558.8 237.6 560 237.6" stroke-width="0.7"/>
<path d="M566.8 233 C568 236 568.4 238.5 568.6 240 C570 242.8 572 245.3 574.2 247.5 C575.8 249.8 577.5 252 579 254.2 C581 252.2 583.5 251.5 585.5 252.3 C587 253 588.3 254.6 589.3 256 C591.5 254.5 594 253.3 597 252.8 C599 252.6 601 252.9 602.3 254 C603.2 255 603 256.3 602.5 257 C601.5 258 600.5 258.6 599.7 258.9 C598.8 259.8 597.8 260.5 596.9 260.8 C597.5 262 598 263.3 597.8 264.5 C599.5 267.5 601 270.8 601.6 274 C602.3 277.5 602 280.8 600.7 283.4 C599.5 286 597.5 288 595 289.1 C592 290 588.5 290 585.6 289.1 C581.5 288.3 577.5 287 574.2 285.3 C570.5 283.3 567.3 280.7 564.8 277.7 C562 275.5 559.5 273 558.2 270.2 C556.8 266.5 556.2 262.5 556.3 258.9 C556.5 254.5 557.5 250 559.2 245.7 C561 242 563 238.5 564.3 236.3 Z" fill="#f3cb8e" stroke-width="1"/>
<defs><clipPath id="beardc"><path d="M566.8 233 C568 236 568.4 238.5 568.6 240 C570 242.8 572 245.3 574.2 247.5 C575.8 249.8 577.5 252 579 254.2 C581 252.2 583.5 251.5 585.5 252.3 C587 253 588.3 254.6 589.3 256 C591.5 254.5 594 253.3 597 252.8 C599 252.6 601 252.9 602.3 254 C603.2 255 603 256.3 602.5 257 C601.5 258 600.5 258.6 599.7 258.9 C598.8 259.8 597.8 260.5 596.9 260.8 C597.5 262 598 263.3 597.8 264.5 C599.5 267.5 601 270.8 601.6 274 C602.3 277.5 602 280.8 600.7 283.4 C599.5 286 597.5 288 595 289.1 C592 290 588.5 290 585.6 289.1 C581.5 288.3 577.5 287 574.2 285.3 C570.5 283.3 567.3 280.7 564.8 277.7 C562 275.5 559.5 273 558.2 270.2 C556.8 266.5 556.2 262.5 556.3 258.9 C556.5 254.5 557.5 250 559.2 245.7 C561 242 563 238.5 564.3 236.3 Z"/></clipPath></defs>
<path d="M576.7 264.8q0.5 2.8 1.0 5.3M563.9 262.2q0.8 2.5 3.5 5.7M559.4 278.5q2.2 2.3 2.0 3.1M586.4 267.9q0.8 0.9 1.4 3.3M564.1 247.3q1.8 2.3 4.0 3.6M579.9 269.2q1.0 2.5 2.1 5.8M602.9 288.8q-1.0 2.7 -1.1 6.2M568.9 237.9q1.8 2.2 2.0 4.7M601.0 280.6q1.5 2.0 1.1 4.2M602.1 255.9q1.3 2.6 1.2 5.9M559.2 252.3q0.5 2.5 2.9 5.9M559.9 237.3q1.2 1.7 2.1 3.6M564.2 274.3q1.2 2.0 4.3 4.3M565.2 248.8q0.7 3.8 2.3 6.3M565.1 255.7q0.3 3.6 2.4 5.6M565.2 248.2q0.6 1.5 2.1 4.3M559.3 266.1q1.8 2.0 4.3 4.1M601.0 260.6q-0.8 2.9 -0.1 7.0M598.6 279.0q0.9 2.8 0.7 4.2M564.4 286.3q1.0 2.1 2.4 5.4M556.9 286.9q1.8 2.6 4.7 4.2M583.6 250.1q0.4 2.4 2.8 5.7M581.8 280.9q1.6 1.8 1.2 4.5M555.8 248.8q0.5 1.1 2.6 2.7M582.5 241.2q2.5 3.5 2.6 6.6M588.2 266.1q-0.5 2.3 1.4 3.4M588.6 287.0q1.3 3.1 2.6 5.5M570.3 289.0q2.4 2.8 3.7 4.3M590.4 272.7q-0.2 3.9 0.3 7.2M598.2 281.9q1.2 3.4 0.7 6.6M585.0 255.0q-0.3 3.1 1.4 5.8M602.7 282.4q0.3 2.6 -0.6 5.0M576.1 280.1q0.7 2.8 3.8 5.3M578.1 246.7q1.0 3.3 1.5 5.3M567.3 234.6q1.2 1.9 3.8 4.9M598.5 270.3q-0.1 3.8 0.6 7.0M564.5 257.7q2.5 3.0 3.1 6.5M583.0 251.4q2.1 3.0 2.5 4.9M589.1 286.3q0.5 1.6 1.3 4.0M565.3 256.8q0.9 2.9 2.7 4.7M602.1 258.9q1.3 1.0 0.7 3.5M589.0 265.4q-0.2 2.6 2.0 6.4M576.8 235.4q-0.3 1.4 1.1 4.3M585.2 258.6q1.4 3.7 1.2 6.0M587.9 245.0q-0.7 2.0 1.0 4.1M589.3 243.9q1.2 2.4 1.5 4.6M584.5 275.6q2.1 2.5 2.2 6.3M599.8 273.7q0.9 3.3 1.1 5.2M573.1 265.3q2.0 3.2 1.8 6.4M586.3 245.3q0.8 3.7 1.0 6.7M565.2 283.5q1.4 3.9 2.5 7.0M570.4 284.0q-0.2 2.2 1.6 4.6M581.4 276.3q1.3 1.0 1.2 3.4M593.4 243.5q-0.1 2.7 1.4 6.5M579.8 273.8q1.7 3.1 1.2 6.1M600.6 238.7q-0.1 3.1 0.9 5.5M585.7 262.8q-0.2 2.7 0.5 5.7M595.6 283.5q2.0 3.4 1.7 6.7M582.5 245.1q1.0 1.9 1.6 5.3M601.5 262.4q0.3 3.3 0.4 6.7M588.2 237.6q1.6 3.2 1.0 5.1M567.9 260.0q2.5 2.6 3.5 3.9M577.9 251.4q2.5 2.0 3.0 5.1M592.4 235.3q1.1 1.8 1.3 4.2M572.1 268.1q1.1 2.5 4.0 5.0M567.0 244.9q1.1 2.1 2.7 4.5M580.4 242.8q1.7 2.7 2.8 5.3M595.9 267.6q0.4 2.7 -0.3 4.4M598.3 251.4q-0.1 4.4 1.1 7.1M597.6 241.4q0.1 2.5 1.3 6.3M594.9 257.2q-0.3 2.3 -0.1 4.0M555.9 245.1q3.3 2.2 4.3 5.7M579.3 275.7q0.4 2.2 2.2 5.8M560.1 236.1q1.8 1.7 3.3 4.5M563.9 245.2q2.6 2.7 3.2 6.7M558.0 286.3q1.7 2.4 4.3 4.9M579.7 257.7q1.0 2.2 1.1 3.4M563.7 259.0q0.5 1.7 2.4 4.5M579.6 234.8q1.0 3.9 1.1 6.6M585.2 256.2q1.8 3.2 1.2 5.4M567.4 284.1q2.1 2.9 2.8 6.0M598.0 282.4q0.5 3.1 -0.2 6.6M589.7 237.9q-0.4 2.4 1.5 5.2M585.7 268.3q1.8 3.1 2.8 6.7M586.7 265.3q1.8 2.7 1.1 4.9M588.7 275.9q0.2 2.2 -0.1 3.6M567.3 256.1q1.2 0.9 3.0 3.1M567.0 283.8q2.5 2.5 2.8 4.8M602.8 269.1q-0.1 2.3 -0.6 3.8M557.2 285.2q1.3 1.7 4.2 3.4M584.3 237.2q0.2 2.7 0.3 5.2M572.5 249.7q0.6 3.0 2.2 5.3M569.2 234.8q0.3 1.9 2.2 2.9M573.7 283.4q1.8 2.5 1.2 3.5M558.5 283.8q2.9 1.6 3.6 4.0M580.1 285.5q1.8 3.1 1.3 5.2M584.0 240.3q-0.1 1.9 1.2 5.2M580.3 240.8q1.0 2.5 2.2 5.7M582.9 257.1q1.7 3.5 0.9 5.5M590.2 247.1q2.0 3.5 2.6 6.6M572.2 248.9q1.3 2.9 2.2 5.3M591.2 244.4q2.1 4.2 2.2 7.1M556.9 237.3q2.2 1.1 3.8 3.5M581.0 238.0q1.7 2.9 3.2 5.3M572.9 260.3q2.0 2.5 2.8 4.0M558.6 240.6q2.2 2.1 3.1 5.1M575.4 248.2q1.0 3.2 1.3 4.8M570.6 264.2q1.2 3.1 2.7 6.7M559.7 282.1q1.6 1.2 3.0 2.4M587.9 250.4q-0.5 2.2 0.3 3.8M558.9 250.7q1.2 2.1 3.4 5.3M572.2 273.9q1.5 1.8 2.0 3.4M599.1 285.7q0.3 2.3 -0.8 5.2M570.2 256.0q0.4 3.2 2.0 6.8M572.5 254.0q0.5 2.3 2.5 4.4M593.3 263.7q-0.8 3.3 -0.1 5.7M597.3 249.5q1.0 2.8 1.7 5.3M601.4 269.8q-0.1 2.3 -0.5 3.7M559.0 238.5q0.9 3.2 3.8 6.0M561.9 275.0q0.5 2.3 2.4 3.8M580.0 276.1q2.1 2.5 1.9 4.5M578.7 263.6q1.8 2.9 1.6 6.1M594.7 270.7q0.6 4.0 -0.4 6.7M601.0 269.2q0.7 3.0 0.0 6.3M575.2 242.0q0.8 3.0 2.3 7.1M564.8 257.4q1.3 2.5 4.7 5.7M560.5 269.6q0.0 1.8 2.1 3.6M583.0 284.0q0.2 1.2 2.0 3.4M566.3 273.4q0.3 1.6 2.2 3.8M563.3 275.7q2.6 2.1 3.7 4.3M567.5 282.8q0.9 3.0 1.7 4.6M578.2 246.2q2.8 2.8 4.1 6.0M580.3 262.4q2.0 2.9 3.3 6.7M555.5 260.0q2.9 2.5 4.8 4.6M562.5 242.6q2.4 1.7 3.0 3.4M585.6 288.6q0.2 3.1 2.1 5.2M555.1 279.2q0.9 2.5 3.7 5.7M589.4 239.3q1.7 2.8 1.1 5.3M596.2 250.7q0.9 1.9 -0.2 5.2M594.7 245.5q-0.6 3.3 0.5 5.6M569.9 251.1q1.5 2.1 3.1 3.6M572.3 271.8q1.5 2.7 3.1 4.0M594.8 270.0q1.4 1.9 1.7 4.7M582.1 259.2q2.7 2.7 3.9 6.3M584.6 250.0q0.5 2.4 1.9 5.3M573.8 270.7q1.7 1.5 2.3 3.6M600.4 265.0q0.6 1.8 -0.4 4.8M561.8 239.2q0.9 2.5 3.3 5.4M595.2 266.6q-0.2 1.5 1.3 4.2M574.5 238.0q0.6 2.8 1.2 5.1" stroke="#4a3014" stroke-width="0.7" clip-path="url(#beardc)"/>
<path d="M579 254.2 C581 252.2 583.5 251.5 585.5 252.3 C587 253 588.3 254.6 589.3 256 C591.5 254.5 594 253.3 597 252.8 C599 252.6 601 252.9 602.3 254" stroke-width="0.9"/>
<path d="M583 257.5 C586 258.8 590 259.8 593.5 259.5 C595.5 259.3 597.5 258.8 599.7 258.9" stroke="#5b3d1e" stroke-width="0.9"/>
<path d="M590.3 260.8 C592 262.3 594.8 262.3 596.9 260.8" stroke-width="0.8" fill="#f4c8bd"/>
<path d="M580.2 223.6 C585 221.6 591.5 222.2 597 224.3" stroke-width="0.8"/>
<path d="M578.6 231.6 C581.5 229.7 585 229.2 588.5 229.4 C591.5 229.6 594.5 230 597 230.8" stroke-width="1.4"/>
<path d="M581.8 234.9 C584.5 233.4 589 233.3 592.2 234.9 C592 236.5 591.5 237.6 590.8 238.2 C588 238.4 584.5 237.5 581.8 234.9 Z" fill="#fff" stroke-width="0.8"/>
<ellipse cx="588.4" cy="235.9" rx="2.2" ry="1.9" fill="#4d5256" stroke="#222" stroke-width="0.6"/>
<path d="M577 236.5 C579.5 238.5 583.5 240 587 240.3" stroke-width="0.7"/>
<path d="M597 236.3 C597.2 238.5 597.5 240.8 597.8 242.7" stroke-width="0.7"/>
<path d="M572 227 C572.6 224 574 220.5 576 218.5" stroke-width="0.7"/>
<path d="M591.6 250.6 C592 248.9 594 248.4 595.6 249.4" stroke-width="0.9"/>
<path d="M571.4 281.5 C571.8 284 572.2 286.3 572.4 288.1" stroke-width="0.8"/>
<path d="M500.7 287.2 C505 285.3 509.5 283 513.9 280.6 C516.3 279 518.5 277.3 520.5 275.8 C523 275 525.5 274.7 528 274.9 C533 276 538 277.3 542.2 278.7 C547.5 280.5 552.5 282.5 557.3 284.3 C562 286.3 566.5 288.3 570.5 290 C573 290.8 575.5 291 578 290.9 C580 292.5 581.8 294.5 582.7 296.6 C583.5 299.5 583.8 302.5 583.7 305.1 C579 305 574.5 304.2 570.5 303.2 C564 302 557.5 300.3 551.6 298.5 C545 297 538.5 295.5 532.7 293.8 C526.5 292.8 520 291.5 513.9 290 C509.5 289.3 505 288.3 500.7 287.2 Z" fill="#1b1b1b" stroke="#1b1b1b" stroke-width="0.8"/>
<path d="M512 284.5 C522 286 535 289 548 293 C560 296.5 572 299.5 582 300.5" stroke="#333" stroke-width="0.6"/>
</g>
</svg>
<svg width="689" height="445" viewBox="0 0 689 445" style="pointer-events:none">
<g style="font-family:'Liberation Sans',sans-serif;font-size:34.3px;fill:#000;text-anchor:middle;">
<text transform="translate(332.3 32.3) scale(1.024 1)">pro-choice</text>
<text transform="translate(151.65 178.1) scale(1.02 1)">pro-life</text>
<text transform="translate(551.35 151.4) scale(1.025 1)">depends on</text>
<text transform="translate(551.65 192) scale(1.018 1)">the race</text>
</g>
</svg>
</body></html>
